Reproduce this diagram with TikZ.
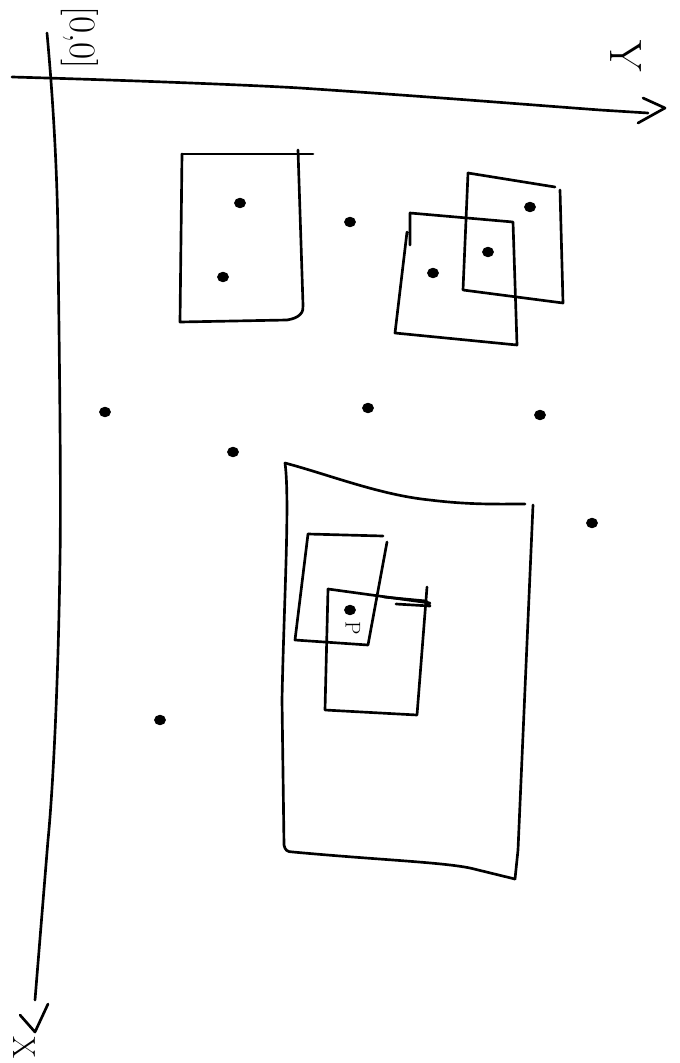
\documentclass[tikz,border=0pt]{standalone}
\usetikzlibrary{shapes.geometric}
\begin{document}
\begin{tikzpicture}[x=0.75pt,y=-0.75pt,
  pen/.style={line width=2pt,line cap=round,line join=round},
  dot/.style={draw,ellipse,fill=black,line width=0.8pt,inner sep=0pt,minimum width=8pt,minimum height=7pt},
  lbl/.style={rotate=-90,font=\fontsize{28}{30}\selectfont}]
\useasboundingbox (0,0) rectangle (680,1063);
% axes
\draw[pen] (12,77) .. controls (120,80) and (250,85) .. (300,88)
  .. controls (420,96) and (520,104) .. (600,110) -- (648,113);
\draw[pen] (643,98) -- (665,108) -- (638,123);
\draw[pen] (47,33) .. controls (55,120) and (58,200) .. (58,250)
  .. controls (60,400) and (61,500) .. (60,560)
  .. controls (58,700) and (52,800) .. (48,840) -- (35,1000);
\draw[pen] (20,1015) -- (35,1032) -- (48,1004);
\node[lbl] (orig) at (80,38) {[0,0]};
\node[lbl,font=\fontsize{34}{36}\selectfont] (ylab) at (626,56) {Y};
\node[lbl,font=\fontsize{24}{26}\selectfont,inner sep=0pt] (xlab) at (24,1048) {X};
% box 1
\draw[pen] (182,154) -- (313,154);
\draw[pen] (182,154) -- (180,322) -- (287,320) .. controls (300,318) and (304,312) .. (303,305) -- (298,150);
\node[dot] (d1) at (240,203) {};
\node[dot] (d2) at (223,277) {};
% box 2
\draw[pen] (468,173) -- (555,187);
\draw[pen] (560,190) -- (563,303) -- (463,290) -- (468,173);
\node[dot] (d3) at (530,207) {};
% box 3
\draw[pen] (410,245) -- (410,213) -- (513,222) -- (517,345) -- (395,333) -- (407,232);
\node[dot] (d4) at (488,252) {};
\node[dot] (d5) at (433,273) {};
% loose points
\node[dot] (d6) at (350,222) {};
\node[dot] (d7) at (105,412) {};
\node[dot] (d8) at (368,408) {};
\node[dot] (d9) at (540,415) {};
\node[dot] (d10) at (233,452) {};
\node[dot] (d11) at (592,523) {};
\node[dot] (d12) at (160,720) {};
% big box
\draw[pen] (285,463) .. controls (330,475) and (380,495) .. (430,500) .. controls (470,505) and (500,504) .. (525,504);
\draw[pen] (533,505) -- (518,850) -- (515,879);
\draw[pen] (285,463) .. controls (290,500) and (284,600) .. (282,700) -- (284,845) .. controls (285,850) and (287,852) .. (293,852)
  .. controls (380,860) and (440,862) .. (470,868) -- (515,879);
% small box A
\draw[pen] (308,534) -- (383,536);
\draw[pen] (387,542) -- (368,645) -- (295,640) -- (308,534);
% small box B
\draw[pen] (328,589) -- (430,603);
\draw[pen] (384,597) -- (426,601) -- (430,606) -- (396,604);
\draw[pen] (427,587) -- (417,715) -- (325,710) -- (328,589);
\node[dot] (dp) at (350,610) {};
\node[rotate=-90,font=\fontsize{16}{18}\selectfont] (plab) at (353,628) {P};
\end{tikzpicture}
\end{document}
